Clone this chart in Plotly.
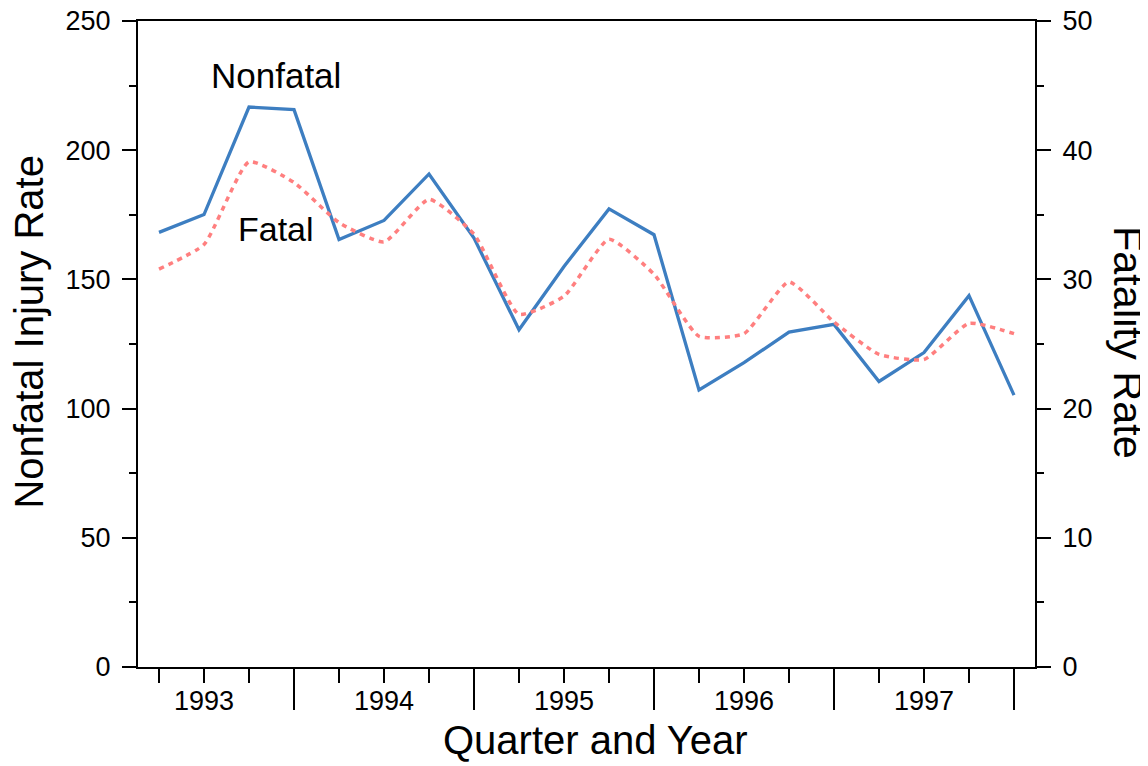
import plotly.graph_objects as go

# ---- data ----
quarters = list(range(1, 21))
year_labels = ["1993", "1994", "1995", "1996", "1997"]
year_label_pos = [2, 6, 10, 14, 18]
year_end_pos = [4, 8, 12, 16, 20]
nonfatal_rate = [168.2, 175.1, 216.7, 215.7, 165.4, 172.8, 190.8, 166.0, 130.5, 155.0,
                 177.3, 167.3, 107.2, 117.8, 129.6, 132.6, 110.5, 121.7, 143.7, 105.2]
fatality_rate = [30.8, 32.7, 39.1, 37.5, 34.4, 32.9, 36.2, 33.5, 27.3, 28.7,
                 33.1, 30.4, 25.6, 25.8, 29.8, 26.7, 24.2, 23.8, 26.6, 25.8]

FONT = "Liberation Sans"
XR = [0.533, 20.467]

fig = go.Figure()
fig.add_trace(go.Scatter(x=quarters, y=nonfatal_rate, mode="lines",
                         line=dict(color="#3D7EC1", width=3.3),
                         xaxis="x", yaxis="y", showlegend=False))
fig.add_trace(go.Scatter(x=quarters, y=fatality_rate, mode="lines",
                         line=dict(color="#FF7F7F", width=3.5, dash="5px,5px",
                                   shape="spline", smoothing=0.5),
                         xaxis="x2", yaxis="y2", showlegend=False))

axis_common = dict(showgrid=False, zeroline=False, showline=True,
                   linecolor="black", linewidth=2, tickcolor="black", tickwidth=2,
                   ticklabeloverflow="allow",
                   tickfont=dict(family=FONT, size=27, color="black"))

fig.update_layout(
    width=1148, height=766,
    margin=dict(l=130, r=121, t=13, b=107, autoexpand=False),
    plot_bgcolor="white", paper_bgcolor="white",
    xaxis=dict(range=XR, tickmode="array", tickvals=year_label_pos, ticktext=year_labels,
               ticks="outside", ticklen=14, mirror=True, ticklabelstandoff=-5,
               minor=dict(tickmode="linear", tick0=0, dtick=1, ticks="outside",
                          ticklen=14, tickwidth=2, tickcolor="black", showgrid=False),
               **axis_common),
    xaxis2=dict(range=XR, overlaying="x", anchor="y", side="bottom",
                tickmode="array", tickvals=year_end_pos, showticklabels=False,
                ticks="outside", ticklen=42, showgrid=False, zeroline=False,
                showline=False, tickcolor="black", tickwidth=2),
    yaxis=dict(range=[0, 250], tickmode="linear", tick0=0, dtick=50,
               ticks="outside", ticklen=14, ticklabelstandoff=6,
               minor=dict(tickmode="linear", tick0=0, dtick=25, ticks="outside",
                          ticklen=7, tickwidth=2, tickcolor="black", showgrid=False),
               **axis_common),
    yaxis2=dict(range=[0, 50], overlaying="y", side="right", anchor="x",
                tickmode="linear", tick0=0, dtick=10,
                ticks="outside", ticklen=14, ticklabelstandoff=6,
                minor=dict(tickmode="linear", tick0=0, dtick=5, ticks="outside",
                           ticklen=7, tickwidth=2, tickcolor="black", showgrid=False),
                **axis_common),
    annotations=[
        dict(text="Quarter and Year", xref="paper", yref="paper", x=0.51, y=-0.113,
             xanchor="center", yanchor="middle", showarrow=False,
             font=dict(family=FONT, size=40, color="black")),
        dict(text="Nonfatal Injury Rate", xref="paper", yref="paper", x=-0.121, y=0.52,
             xanchor="center", yanchor="middle", showarrow=False, textangle=-90,
             font=dict(family=FONT, size=40, color="black")),
        dict(text="Fatality Rate", xref="paper", yref="paper", x=1.105, y=0.503,
             xanchor="center", yanchor="middle", showarrow=False, textangle=90,
             font=dict(family=FONT, size=41.5, color="black")),
        dict(text="Nonfatal", xref="x", yref="y", x=3.6, y=229,
             xanchor="center", yanchor="middle", showarrow=False,
             font=dict(family=FONT, size=35, color="black")),
        dict(text="Fatal", xref="x", yref="y", x=3.6, y=169.5,
             xanchor="center", yanchor="middle", showarrow=False,
             font=dict(family=FONT, size=34, color="black")),
    ],
)

fig.write_html("out.html")
